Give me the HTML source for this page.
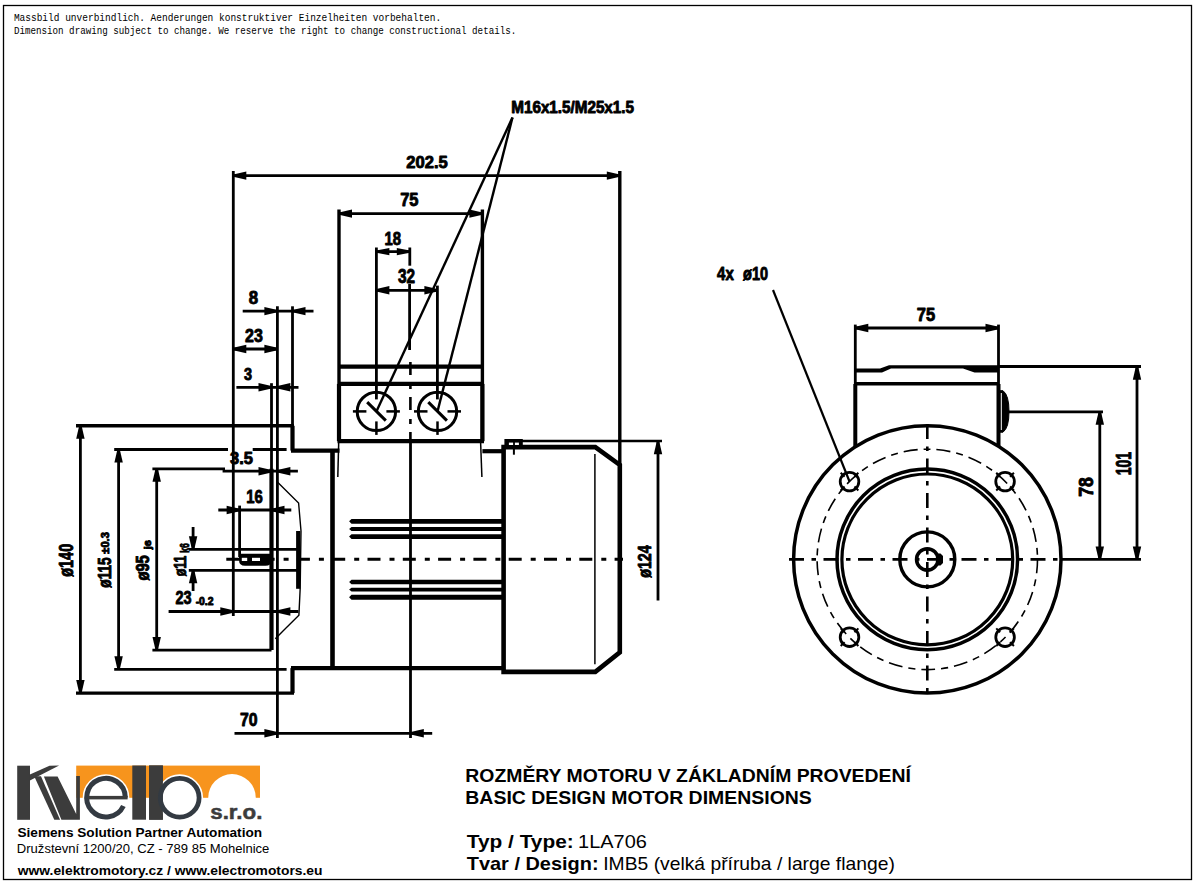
<!DOCTYPE html>
<html><head><meta charset="utf-8"><style>
html,body{margin:0;padding:0;background:#fff;}
svg{display:block;}
</style></head><body>
<svg width="1195" height="885" viewBox="0 0 1195 885">
<rect x="0" y="0" width="1195" height="885" fill="#fff"/>
<rect x="3.5" y="5.5" width="1188" height="874" fill="none" stroke="#000" stroke-width="1.3"/>
<g stroke="#000" stroke-linecap="butt" fill="none">
<line x1="225" y1="559.3" x2="623" y2="559.3" stroke-width="3" stroke-dasharray="13 9 5 8.3" stroke-dashoffset="34"/>
<line x1="233.3" y1="171" x2="233.3" y2="616" stroke-width="2.8" />
<line x1="619.8" y1="171" x2="619.8" y2="465" stroke-width="3.4" />
<line x1="233.3" y1="175.6" x2="619.8" y2="175.6" stroke-width="2.8" />
<polygon points="233.3,174.4 246.3,171.4 246.3,179.8 233.3,176.8" fill="#000" stroke="none" />
<polygon points="619.8,176.8 606.8,179.8 606.8,171.4 619.8,174.4" fill="#000" stroke="none" />
<line x1="339" y1="209.5" x2="339" y2="441.2" stroke-width="3.4" />
<line x1="482.4" y1="209.5" x2="482.4" y2="441.2" stroke-width="3.4" />
<line x1="339" y1="213.6" x2="482.4" y2="213.6" stroke-width="2.8" />
<polygon points="339,212.4 352,209.4 352,217.8 339,214.8" fill="#000" stroke="none" />
<polygon points="482.4,214.8 469.4,217.8 469.4,209.4 482.4,212.4" fill="#000" stroke="none" />
<line x1="376.4" y1="247.5" x2="376.4" y2="399.4" stroke-width="2.8" />
<line x1="409.8" y1="247.5" x2="409.8" y2="265.7" stroke-width="2.8" />
<line x1="376.4" y1="251.6" x2="409.8" y2="251.6" stroke-width="2.8" />
<polygon points="376.4,250.4 389.4,248 389.4,255.2 376.4,252.8" fill="#000" stroke="none" />
<polygon points="409.8,252.8 396.8,255.2 396.8,248 409.8,250.4" fill="#000" stroke="none" />
<line x1="437.4" y1="285.6" x2="437.4" y2="399.4" stroke-width="2.8" />
<line x1="376.4" y1="290.3" x2="437.4" y2="290.3" stroke-width="2.8" />
<polygon points="376.4,289.1 389.4,286.1 389.4,294.5 376.4,291.5" fill="#000" stroke="none" />
<polygon points="437.4,291.5 424.4,294.5 424.4,286.1 437.4,289.1" fill="#000" stroke="none" />
<line x1="409.6" y1="284" x2="409.6" y2="350" stroke-width="2.8" />
<line x1="410.4" y1="362" x2="410.4" y2="441" stroke-width="2.6" stroke-dasharray="13 9 5 8"/>
<line x1="410.5" y1="441" x2="410.5" y2="738" stroke-width="2.8" />
<line x1="512.5" y1="117.5" x2="376.4" y2="411.4" stroke-width="2.4" />
<line x1="512.5" y1="117.5" x2="437.5" y2="411.4" stroke-width="2.4" />
<line x1="277.4" y1="306.3" x2="277.4" y2="738" stroke-width="2.8" />
<line x1="292.5" y1="306.3" x2="292.5" y2="426" stroke-width="2.8" />
<line x1="242.7" y1="311.1" x2="313.5" y2="311.1" stroke-width="2.8" />
<polygon points="277.4,312.3 264.4,315.3 264.4,306.9 277.4,309.9" fill="#000" stroke="none" />
<polygon points="292.5,309.9 305.5,306.9 305.5,315.3 292.5,312.3" fill="#000" stroke="none" />
<line x1="233.3" y1="349" x2="277.4" y2="349" stroke-width="2.8" />
<polygon points="233.3,347.8 246.3,344.8 246.3,353.2 233.3,350.2" fill="#000" stroke="none" />
<polygon points="277.4,350.2 264.4,353.2 264.4,344.8 277.4,347.8" fill="#000" stroke="none" />
<line x1="271.5" y1="383.2" x2="271.5" y2="470" stroke-width="2.8" />
<line x1="236.4" y1="387.3" x2="298.5" y2="387.3" stroke-width="2.8" />
<polygon points="271.5,388.5 258.5,391.5 258.5,383.1 271.5,386.1" fill="#000" stroke="none" />
<polygon points="277.4,386.1 290.4,383.1 290.4,391.5 277.4,388.5" fill="#000" stroke="none" />
<line x1="222.6" y1="471.2" x2="297.9" y2="471.2" stroke-width="2.8" />
<polygon points="271.5,472.4 258.5,475.4 258.5,467 271.5,470" fill="#000" stroke="none" />
<polygon points="277.4,470 290.4,467 290.4,475.4 277.4,472.4" fill="#000" stroke="none" />
<line x1="239.6" y1="505.6" x2="239.6" y2="557" stroke-width="2.8" />
<line x1="218.3" y1="510" x2="291.3" y2="510" stroke-width="2.8" />
<polygon points="239.6,511.2 226.6,514.2 226.6,505.8 239.6,508.8" fill="#000" stroke="none" />
<polygon points="271.5,508.8 284.5,505.8 284.5,514.2 271.5,511.2" fill="#000" stroke="none" />
<line x1="168.6" y1="611.5" x2="298.4" y2="611.5" stroke-width="2.8" />
<polygon points="233.3,612.7 220.3,615.7 220.3,607.3 233.3,610.3" fill="#000" stroke="none" />
<polygon points="277.4,610.3 290.4,607.3 290.4,615.7 277.4,612.7" fill="#000" stroke="none" />
<line x1="234.5" y1="733.3" x2="432.2" y2="733.3" stroke-width="2.8" />
<polygon points="277.4,734.5 264.4,737.5 264.4,729.1 277.4,732.1" fill="#000" stroke="none" />
<polygon points="410.8,732.1 423.8,729.1 423.8,737.5 410.8,734.5" fill="#000" stroke="none" />
<line x1="76" y1="425.8" x2="294" y2="425.8" stroke-width="3.4" />
<line x1="76" y1="693.1" x2="294" y2="693.1" stroke-width="3.4" />
<line x1="80.4" y1="425.8" x2="80.4" y2="693.1" stroke-width="2.8" />
<polygon points="81.6,425.8 84.6,438.8 76.2,438.8 79.2,425.8" fill="#000" stroke="none" />
<polygon points="79.2,693.1 76.2,680.1 84.6,680.1 81.6,693.1" fill="#000" stroke="none" />
<line x1="114.2" y1="449.5" x2="228" y2="449.5" stroke-width="2.8" />
<line x1="252.7" y1="449.5" x2="286.6" y2="449.5" stroke-width="2.8" />
<line x1="114.2" y1="669.3" x2="286.6" y2="669.3" stroke-width="2.8" />
<line x1="118.6" y1="449.5" x2="118.6" y2="669.3" stroke-width="2.8" />
<polygon points="119.8,449.5 122.8,462.5 114.4,462.5 117.4,449.5" fill="#000" stroke="none" />
<polygon points="117.4,669.3 114.4,656.3 122.8,656.3 119.8,669.3" fill="#000" stroke="none" />
<line x1="152.4" y1="468.8" x2="225" y2="468.8" stroke-width="2.8" />
<line x1="152.4" y1="650.1" x2="271.5" y2="650.1" stroke-width="2.8" />
<line x1="156.7" y1="468.8" x2="156.7" y2="650.1" stroke-width="2.8" />
<polygon points="157.9,468.8 160.9,481.8 152.5,481.8 155.5,468.8" fill="#000" stroke="none" />
<polygon points="155.5,650.1 152.5,637.1 160.9,637.1 157.9,650.1" fill="#000" stroke="none" />
<line x1="188.8" y1="549.3" x2="298" y2="549.3" stroke-width="2.8" />
<line x1="188.8" y1="570.3" x2="298" y2="570.3" stroke-width="2.8" />
<line x1="193.1" y1="527" x2="193.1" y2="549.3" stroke-width="2.8" />
<polygon points="191.9,549.3 188.9,536.3 197.3,536.3 194.3,549.3" fill="#000" stroke="none" />
<line x1="193.1" y1="570.3" x2="193.1" y2="591" stroke-width="2.8" />
<polygon points="194.3,570.3 197.3,583.3 188.9,583.3 191.9,570.3" fill="#000" stroke="none" />
<path d="M239,553.8 L271.3,553.8 L271.3,560.5 Q271.3,565.8 265.5,565.8 L245,565.8 Q239,565.8 239,560 Z" fill="#000" stroke="none"/>
<rect x="241.8" y="557.8" width="5.4" height="3.2" fill="#fff" stroke="none"/>
<rect x="252" y="557.8" width="8" height="3.2" fill="#fff" stroke="none"/>
<line x1="292.5" y1="425.8" x2="292.5" y2="450.6" stroke-width="4.2" />
<line x1="291" y1="450.6" x2="339.5" y2="450.6" stroke-width="4.2" />
<line x1="292.5" y1="668.1" x2="292.5" y2="693.1" stroke-width="4.2" />
<line x1="291" y1="668.1" x2="503.6" y2="668.1" stroke-width="4.2" />
<line x1="271.5" y1="468.8" x2="271.5" y2="650.1" stroke-width="4.2" />
<line x1="298.2" y1="531" x2="298.2" y2="588.8" stroke-width="4.2" />
<polyline points="277.4,482 298.6,503 301,531 300.2,588 298.9,615.3 284,630 275.3,638.7" stroke-width="1.4" fill="none" />
<line x1="332.5" y1="450.6" x2="332.5" y2="668.1" stroke-width="4.6" />
<line x1="339" y1="366.7" x2="482.4" y2="366.7" stroke-width="4.2" />
<line x1="339" y1="383.9" x2="482.4" y2="383.9" stroke-width="4.2" />
<line x1="337.5" y1="441.2" x2="484" y2="441.2" stroke-width="4.2" />
<line x1="339" y1="383.9" x2="339" y2="441.2" stroke-width="4.2" />
<line x1="482.4" y1="383.9" x2="482.4" y2="441.2" stroke-width="4.2" />
<line x1="338.7" y1="442" x2="337.8" y2="477" stroke-width="1.5" />
<line x1="480.6" y1="442" x2="481.9" y2="477" stroke-width="1.5" />
<line x1="482.4" y1="451.2" x2="503.6" y2="451.2" stroke-width="4.2" />
<circle cx="376.4" cy="411.4" r="19.2" stroke-width="3" fill="none" />
<line x1="352.9" y1="411.4" x2="366.4" y2="411.4" stroke-width="2.5" />
<line x1="386.4" y1="411.4" x2="399.9" y2="411.4" stroke-width="2.5" />
<line x1="376.4" y1="421.4" x2="376.4" y2="434.9" stroke-width="2.5" />
<line x1="367.2" y1="402.1" x2="385.8" y2="420.6" stroke-width="3" />
<circle cx="437.5" cy="411.4" r="19.2" stroke-width="3" fill="none" />
<line x1="414" y1="411.4" x2="427.5" y2="411.4" stroke-width="2.5" />
<line x1="447.5" y1="411.4" x2="461" y2="411.4" stroke-width="2.5" />
<line x1="437.5" y1="421.4" x2="437.5" y2="434.9" stroke-width="2.5" />
<line x1="428.3" y1="402.1" x2="446.9" y2="420.6" stroke-width="3" />
<polygon points="349.1,521.35 351.5,518.9 503.6,518.9 503.6,523.8 351.5,523.8" fill="#000" stroke="none" />
<polygon points="349.1,529 351.5,527.05 503.6,527.05 503.6,530.95 351.5,530.95" fill="#000" stroke="none" />
<polygon points="349.1,536.6 351.5,534.25 503.6,534.25 503.6,538.95 351.5,538.95" fill="#000" stroke="none" />
<polygon points="349.1,582 351.5,579.65 503.6,579.65 503.6,584.35 351.5,584.35" fill="#000" stroke="none" />
<polygon points="349.1,589.6 351.5,587.65 503.6,587.65 503.6,591.55 351.5,591.55" fill="#000" stroke="none" />
<polygon points="349.1,597.25 351.5,594.8 503.6,594.8 503.6,599.7 351.5,599.7" fill="#000" stroke="none" />
<polyline points="503.6,451 503.6,447.1 595.3,447.1 619.8,465 619.8,652.4 595.3,671.9 503.6,671.9 503.6,447" stroke-width="4.6" fill="none" />
<line x1="594.9" y1="453.9" x2="594.9" y2="664.2" stroke-width="1.5" />
<path d="M504.4,439 L522.8,439 L522.8,447 L501.5,449 L504.4,446 Z" fill="#000" stroke="none"/>
<rect x="508.9" y="442.6" width="4.2" height="2.4" fill="#fff" stroke="none"/>
<rect x="514.9" y="442.6" width="4" height="2.4" fill="#fff" stroke="none"/>
<line x1="513.9" y1="447" x2="513.9" y2="454.7" stroke-width="2" />
<line x1="520" y1="441.1" x2="662" y2="441.1" stroke-width="2.5" />
<line x1="658" y1="441.2" x2="658" y2="600.5" stroke-width="2.8" />
<polygon points="659.2,441.2 662.2,454.2 653.8,454.2 656.8,441.2" fill="#000" stroke="none" />
<circle cx="927.3" cy="559.4" r="133.7" stroke-width="3.5" fill="none" />
<circle cx="927.3" cy="559.4" r="110.2" stroke-width="1.6" fill="none" stroke-dasharray="14 6 7 6"/>
<circle cx="927.3" cy="559.4" r="90.3" stroke-width="3.5" fill="none" />
<circle cx="927.3" cy="559.4" r="85.4" stroke-width="3.2" fill="none" />
<circle cx="927.3" cy="559.4" r="27.5" stroke-width="3.4" fill="none" />
<circle cx="927.3" cy="559.4" r="10.7" stroke-width="3.6" fill="none" />
<polygon points="936,553.5 940.5,553.5 943,556 943,563 940.5,565.5 936,565.5" fill="#000" stroke="none" />
<line x1="789" y1="559.4" x2="1062" y2="559.4" stroke-width="2.7" stroke-dasharray="15 7.5 4.5 7.5"/>
<line x1="1060" y1="559.4" x2="1141" y2="559.4" stroke-width="2.8" />
<line x1="927.3" y1="423.9" x2="927.3" y2="698.5" stroke-width="2.6" stroke-dasharray="15 7.5 4.5 7.5"/>
<circle cx="1005.08" cy="481.62" r="9.3" stroke-width="2.8" fill="none" />
<line x1="1010.03" y1="476.67" x2="1013.92" y2="472.78" stroke-width="2" />
<line x1="1000.13" y1="476.67" x2="996.24" y2="472.78" stroke-width="2" />
<line x1="1000.13" y1="486.57" x2="996.24" y2="490.46" stroke-width="2" />
<line x1="1010.03" y1="486.57" x2="1013.92" y2="490.46" stroke-width="2" />
<circle cx="849.52" cy="481.62" r="9.3" stroke-width="2.8" fill="none" />
<line x1="854.47" y1="476.67" x2="858.36" y2="472.78" stroke-width="2" />
<line x1="844.57" y1="476.67" x2="840.68" y2="472.78" stroke-width="2" />
<line x1="844.57" y1="486.57" x2="840.68" y2="490.46" stroke-width="2" />
<line x1="854.47" y1="486.57" x2="858.36" y2="490.46" stroke-width="2" />
<circle cx="849.52" cy="637.18" r="9.3" stroke-width="2.8" fill="none" />
<line x1="854.47" y1="632.23" x2="858.36" y2="628.34" stroke-width="2" />
<line x1="844.57" y1="632.23" x2="840.68" y2="628.34" stroke-width="2" />
<line x1="844.57" y1="642.13" x2="840.68" y2="646.02" stroke-width="2" />
<line x1="854.47" y1="642.13" x2="858.36" y2="646.02" stroke-width="2" />
<circle cx="1005.08" cy="637.18" r="9.3" stroke-width="2.8" fill="none" />
<line x1="1010.03" y1="632.23" x2="1013.92" y2="628.34" stroke-width="2" />
<line x1="1000.13" y1="632.23" x2="996.24" y2="628.34" stroke-width="2" />
<line x1="1000.13" y1="642.13" x2="996.24" y2="646.02" stroke-width="2" />
<line x1="1010.03" y1="642.13" x2="1013.92" y2="646.02" stroke-width="2" />
<line x1="773" y1="290" x2="849.5" y2="481.5" stroke-width="2.2" />
<line x1="855.3" y1="324.6" x2="855.3" y2="384" stroke-width="2.8" />
<line x1="855.3" y1="384" x2="855.3" y2="447" stroke-width="4" />
<line x1="998.5" y1="324.6" x2="998.5" y2="384" stroke-width="2.8" />
<line x1="998.5" y1="384" x2="998.5" y2="446.5" stroke-width="4" />
<line x1="855.3" y1="328" x2="998.5" y2="328" stroke-width="2.8" />
<polygon points="855.3,326.8 868.3,323.8 868.3,332.2 855.3,329.2" fill="#000" stroke="none" />
<polygon points="998.5,329.2 985.5,332.2 985.5,323.8 998.5,326.8" fill="#000" stroke="none" />
<polygon points="855.2,368.4 880,368.4 889,365.2 998.5,365.2 998.5,372.4 974.5,372.4 963,368.5 891,368.5 882,372.4 855.2,372.4" fill="#000" stroke="none" />
<line x1="855.3" y1="383.8" x2="998.5" y2="383.8" stroke-width="3.5" />
<line x1="998.5" y1="366.5" x2="1141" y2="366.5" stroke-width="2.8" />
<path d="M998.5,390.7 L1003,390.7 Q1009,395 1009,411.5 Q1009,428 1003,432.2 L998.5,432.2 Z" fill="#000"/>
<line x1="1001.3" y1="393" x2="1001.3" y2="430" stroke="#fff" stroke-width="1"/>
<line x1="1008" y1="411.8" x2="1103" y2="411.8" stroke-width="2.8" />
<line x1="1099.8" y1="411.8" x2="1099.8" y2="559.4" stroke-width="2.8" />
<polygon points="1101,411.8 1104,424.8 1095.6,424.8 1098.6,411.8" fill="#000" stroke="none" />
<polygon points="1098.6,559.4 1095.6,546.4 1104,546.4 1101,559.4" fill="#000" stroke="none" />
<line x1="1137" y1="366.8" x2="1137" y2="559.4" stroke-width="2.8" />
<polygon points="1138.2,366.8 1141.2,379.8 1132.8,379.8 1135.8,366.8" fill="#000" stroke="none" />
<polygon points="1135.8,559.4 1132.8,546.4 1141.2,546.4 1138.2,559.4" fill="#000" stroke="none" />
</g>
<g id="logo">
<rect x="76.2" y="765.6" width="183.8" height="32.2" fill="#f7941d"/>
<path d="M208.2,797.9 A23.8,23.8 0 0 1 255.8,797.9 Z" fill="#fff"/>
<g fill="#3c3c3c">
<rect x="17.2" y="765.7" width="12.8" height="54.1"/>
<polygon points="29.9,774.6 49.5,765.8 59.1,765.5 29.9,780.6"/>
<polygon points="34.2,776.3 41,776.3 60.1,819.8 54.3,819.8"/>
<polygon points="43.9,776.4 57.6,776.4 76.2,814 76.2,776.1 79.9,776.1 79.9,819.8 61.4,819.8"/>
<rect x="132.3" y="765.5" width="13.7" height="54.2"/>
<rect x="149.1" y="765.5" width="13.8" height="54.2"/>
</g>
<!-- e -->
<circle cx="106" cy="797.6" r="19.3" fill="#fff" stroke="#fff" stroke-width="8"/>
<path d="M125.3,797.6 A19.3,19.3 0 1 0 123.4,806" fill="none" stroke="#333a42" stroke-width="5"/>
<rect x="88" y="795.9" width="39.6" height="3.5" fill="#3c3c3c"/>
<!-- b bowl -->
<circle cx="179.7" cy="797.7" r="19.4" fill="#fff" stroke="#fff" stroke-width="8"/>
<rect x="149.1" y="765.5" width="13.8" height="54.2" fill="#3c3c3c"/>
<circle cx="179.7" cy="797.7" r="19.4" fill="none" stroke="#333a42" stroke-width="4.8"/>
</g>

<g>
<text x="406.34" y="168.45" font-family="'Liberation Sans', sans-serif" font-weight="bold" font-size="16.57" textLength="41.37" lengthAdjust="spacingAndGlyphs" fill="#000" stroke="#000" stroke-width="0.9" stroke-linejoin="round">202.5</text>
<text x="400.13" y="206.35" font-family="'Liberation Sans', sans-serif" font-weight="bold" font-size="18.14" textLength="18.34" lengthAdjust="spacingAndGlyphs" fill="#000" stroke="#000" stroke-width="0.9" stroke-linejoin="round">75</text>
<text x="384.53" y="244.75" font-family="'Liberation Sans', sans-serif" font-weight="bold" font-size="18.86" textLength="16.58" lengthAdjust="spacingAndGlyphs" fill="#000" stroke="#000" stroke-width="0.9" stroke-linejoin="round">18</text>
<text x="398.07" y="283.35" font-family="'Liberation Sans', sans-serif" font-weight="bold" font-size="19.57" textLength="17.06" lengthAdjust="spacingAndGlyphs" fill="#000" stroke="#000" stroke-width="0.9" stroke-linejoin="round">32</text>
<text x="511.31" y="112.64" font-family="'Liberation Sans', sans-serif" font-weight="bold" font-size="16.39" textLength="122.69" lengthAdjust="spacingAndGlyphs" fill="#000" stroke="#000" stroke-width="0.9" stroke-linejoin="round">M16x1.5/M25x1.5</text>
<text x="248.73" y="304.05" font-family="'Liberation Sans', sans-serif" font-weight="bold" font-size="18.43" textLength="9.35" lengthAdjust="spacingAndGlyphs" fill="#000" stroke="#000" stroke-width="0.9" stroke-linejoin="round">8</text>
<text x="245.05" y="341.95" font-family="'Liberation Sans', sans-serif" font-weight="bold" font-size="18.86" textLength="17.80" lengthAdjust="spacingAndGlyphs" fill="#000" stroke="#000" stroke-width="0.9" stroke-linejoin="round">23</text>
<text x="243.99" y="379.95" font-family="'Liberation Sans', sans-serif" font-weight="bold" font-size="16.71" textLength="8.01" lengthAdjust="spacingAndGlyphs" fill="#000" stroke="#000" stroke-width="0.9" stroke-linejoin="round">3</text>
<text x="230.04" y="463.65" font-family="'Liberation Sans', sans-serif" font-weight="bold" font-size="16.57" textLength="22.87" lengthAdjust="spacingAndGlyphs" fill="#000" stroke="#000" stroke-width="0.9" stroke-linejoin="round">3.5</text>
<text x="246.33" y="503.15" font-family="'Liberation Sans', sans-serif" font-weight="bold" font-size="19.14" textLength="16.58" lengthAdjust="spacingAndGlyphs" fill="#000" stroke="#000" stroke-width="0.9" stroke-linejoin="round">16</text>
<text x="175.39" y="604.15" font-family="'Liberation Sans', sans-serif" font-weight="bold" font-size="18.14" textLength="16.10" lengthAdjust="spacingAndGlyphs" fill="#000" stroke="#000" stroke-width="0.9" stroke-linejoin="round">23</text>
<text x="195.63" y="604.95" font-family="'Liberation Sans', sans-serif" font-weight="bold" font-size="10.71" textLength="17.92" lengthAdjust="spacingAndGlyphs" fill="#000" stroke="#000" stroke-width="0.9" stroke-linejoin="round">-0.2</text>
<text x="240.06" y="726.15" font-family="'Liberation Sans', sans-serif" font-weight="bold" font-size="18.14" textLength="17.58" lengthAdjust="spacingAndGlyphs" fill="#000" stroke="#000" stroke-width="0.9" stroke-linejoin="round">70</text>
<text transform="translate(72.97,576.71) rotate(-90)" x="0" y="0" font-family="'Liberation Sans', sans-serif" font-weight="bold" font-size="19.31" textLength="32.88" lengthAdjust="spacingAndGlyphs" fill="#000" stroke="#000" stroke-width="0.9" stroke-linejoin="round">ø140</text>
<text transform="translate(111.17,587.69) rotate(-90)" x="0" y="0" font-family="'Liberation Sans', sans-serif" font-weight="bold" font-size="19.03" textLength="30.37" lengthAdjust="spacingAndGlyphs" fill="#000" stroke="#000" stroke-width="0.9" stroke-linejoin="round">ø115</text>
<text transform="translate(108.75,553.73) rotate(-90)" x="0" y="0" font-family="'Liberation Sans', sans-serif" font-weight="bold" font-size="11.29" textLength="21.61" lengthAdjust="spacingAndGlyphs" fill="#000" stroke="#000" stroke-width="0.9" stroke-linejoin="round">±0.3</text>
<text transform="translate(148.81,580.52) rotate(-90)" x="0" y="0" font-family="'Liberation Sans', sans-serif" font-weight="bold" font-size="17.79" textLength="25.31" lengthAdjust="spacingAndGlyphs" fill="#000" stroke="#000" stroke-width="0.9" stroke-linejoin="round">ø95</text>
<text transform="translate(150.66,549.37) rotate(-90)" x="0" y="0" font-family="'Liberation Sans', sans-serif" font-weight="bold" font-size="8.95" textLength="9.20" lengthAdjust="spacingAndGlyphs" fill="#000" stroke="#000" stroke-width="0.9" stroke-linejoin="round">j6</text>
<text transform="translate(186.13,576.36) rotate(-90)" x="0" y="0" font-family="'Liberation Sans', sans-serif" font-weight="bold" font-size="16.69" textLength="20.63" lengthAdjust="spacingAndGlyphs" fill="#000" stroke="#000" stroke-width="0.9" stroke-linejoin="round">ø11</text>
<text transform="translate(189.45,552.80) rotate(-90)" x="0" y="0" font-family="'Liberation Sans', sans-serif" font-weight="bold" font-size="12.80" textLength="9.68" lengthAdjust="spacingAndGlyphs" fill="#000" stroke="#000" stroke-width="0.9" stroke-linejoin="round">k6</text>
<text transform="translate(650.87,577.81) rotate(-90)" x="0" y="0" font-family="'Liberation Sans', sans-serif" font-weight="bold" font-size="19.03" textLength="32.52" lengthAdjust="spacingAndGlyphs" fill="#000" stroke="#000" stroke-width="0.9" stroke-linejoin="round">ø124</text>
<text x="717.08" y="280.35" font-family="'Liberation Sans', sans-serif" font-weight="bold" font-size="18.14" textLength="16.66" lengthAdjust="spacingAndGlyphs" fill="#000" stroke="#000" stroke-width="0.9" stroke-linejoin="round">4x</text>
<text x="743.09" y="279.91" font-family="'Liberation Sans', sans-serif" font-weight="bold" font-size="17.52" textLength="24.96" lengthAdjust="spacingAndGlyphs" fill="#000" stroke="#000" stroke-width="0.9" stroke-linejoin="round">ø10</text>
<text x="916.73" y="320.75" font-family="'Liberation Sans', sans-serif" font-weight="bold" font-size="18.14" textLength="18.34" lengthAdjust="spacingAndGlyphs" fill="#000" stroke="#000" stroke-width="0.9" stroke-linejoin="round">75</text>
<text transform="translate(1093.15,496.83) rotate(-90)" x="0" y="0" font-family="'Liberation Sans', sans-serif" font-weight="bold" font-size="20.14" textLength="19.54" lengthAdjust="spacingAndGlyphs" fill="#000" stroke="#000" stroke-width="0.9" stroke-linejoin="round">78</text>
<text transform="translate(1131.05,475.30) rotate(-90)" x="0" y="0" font-family="'Liberation Sans', sans-serif" font-weight="bold" font-size="21.86" textLength="23.42" lengthAdjust="spacingAndGlyphs" fill="#000" stroke="#000" stroke-width="0.9" stroke-linejoin="round">101</text>
<text x="13.89" y="20.80" font-family="'Liberation Mono', monospace" font-weight="normal" font-size="11.56" textLength="427.32" lengthAdjust="spacingAndGlyphs" fill="#000">Massbild unverbindlich. Aenderungen konstruktiver Einzelheiten vorbehalten.</text>
<text x="13.91" y="33.70" font-family="'Liberation Mono', monospace" font-weight="normal" font-size="11.11" textLength="502.34" lengthAdjust="spacingAndGlyphs" fill="#000">Dimension drawing subject to change. We reserve the right to change constructional details.</text>
<text x="465.35" y="781.80" font-family="'Liberation Sans', sans-serif" font-weight="bold" font-size="18.29" textLength="445.51" lengthAdjust="spacingAndGlyphs" fill="#000">ROZMĚRY MOTORU V ZÁKLADNÍM PROVEDENÍ</text>
<text x="465.34" y="803.70" font-family="'Liberation Sans', sans-serif" font-weight="bold" font-size="18.29" textLength="346.46" lengthAdjust="spacingAndGlyphs" fill="#000">BASIC DESIGN MOTOR DIMENSIONS</text>
<text x="466.80" y="847.70" font-family="'Liberation Sans', sans-serif" font-weight="bold" font-size="18.71" textLength="106.87" lengthAdjust="spacingAndGlyphs" fill="#000">Typ / Type:</text>
<text x="578.10" y="847.70" font-family="'Liberation Sans', sans-serif" font-weight="normal" font-size="18.71" textLength="68.75" lengthAdjust="spacingAndGlyphs" fill="#000">1LA706</text>
<text x="466.80" y="869.70" font-family="'Liberation Sans', sans-serif" font-weight="bold" font-size="19.00" textLength="131.75" lengthAdjust="spacingAndGlyphs" fill="#000">Tvar / Design:</text>
<text x="603.27" y="869.70" font-family="'Liberation Sans', sans-serif" font-weight="normal" font-size="19.00" textLength="291.55" lengthAdjust="spacingAndGlyphs" fill="#000">IMB5 (velká příruba / large flange)</text>
<text x="17.46" y="837.00" font-family="'Liberation Sans', sans-serif" font-weight="bold" font-size="13.43" textLength="244.62" lengthAdjust="spacingAndGlyphs" fill="#000">Siemens Solution Partner Automation</text>
<text x="16.82" y="852.80" font-family="'Liberation Sans', sans-serif" font-weight="normal" font-size="13.43" textLength="252.55" lengthAdjust="spacingAndGlyphs" fill="#000">Družstevní 1200/20, CZ - 789 85 Mohelnice</text>
<text x="17.80" y="874.90" font-family="'Liberation Sans', sans-serif" font-weight="bold" font-size="12.71" textLength="304.72" lengthAdjust="spacingAndGlyphs" fill="#000">www.elektromotory.cz / www.electromotors.eu</text>
<text x="210.23" y="819.15" font-family="'Liberation Sans', sans-serif" font-weight="bold" font-size="20.00" textLength="52.15" lengthAdjust="spacingAndGlyphs" fill="#3c3c3c" stroke="#3c3c3c" stroke-width="0.5" stroke-linejoin="round">s.r.o.</text>
</g>
</svg>
</body></html>
